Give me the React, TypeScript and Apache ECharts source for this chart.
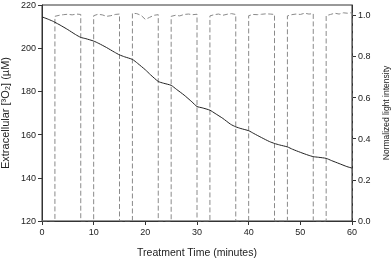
import React, { useEffect, useRef } from "react";
import * as echarts from "echarts";

// Extracellular oxygen (µM) vs time (minutes)
const o2Times = [0, 1, 2, 2.5, 3.5, 5, 6.5, 7.5, 8.5, 10, 11, 12.5, 14, 15, 16, 17.5, 18.5, 20, 21, 22.5, 23.5, 25, 26, 27.5, 29, 30, 31, 32.5, 33.5, 35, 36.5, 37.5, 38.5, 40, 41, 42.5, 44, 45, 46, 47.5, 48.5, 50, 51.5, 52.5, 53.5, 55, 56, 57.5, 59, 60];
const o2Values = [214.5, 213.6, 212.6, 212.0, 210.7, 208.6, 206.3, 205.0, 204.4, 203.3, 202.2, 200.3, 198.2, 196.9, 196.0, 194.8, 193.0, 190.0, 187.7, 184.6, 183.8, 182.8, 181.0, 178.3, 175.2, 173.0, 172.4, 171.3, 169.8, 167.5, 164.8, 163.6, 162.8, 161.8, 160.5, 158.6, 156.8, 155.9, 155.2, 154.3, 153.2, 151.8, 150.5, 149.8, 149.5, 149.0, 148.0, 146.6, 145.2, 144.5];

// Light pulses: on-interval starts / ends (minutes) and normalized intensity readings during each pulse
const lightOnStarts = [2.5, 10, 17.5, 25, 32.5, 40, 47.5, 55];
const lightOnEnds = [7.5, 15, 22.5, 30, 37.5, 45, 52.5, 60];
const lightLevels = [
  [0.995, 1.0, 1.003, 1.005, 1.002, 1.006, 1.004],
  [0.998, 1.005, 1.002, 0.995, 0.998, 1.004, 1.006],
  [1.01, 1.008, 1.0, 0.98, 0.99, 1.0, 1.003],
  [0.995, 1.0, 0.997, 1.004, 1.006, 1.003, 1.005],
  [0.997, 1.003, 1.006, 1.0, 1.005, 1.008, 1.004],
  [0.998, 1.004, 1.003, 1.005, 1.007, 1.006, 1.004],
  [0.997, 1.003, 1.006, 1.004, 1.01, 1.006, 1.008],
  [0.998, 1.004, 1.01, 1.006, 1.012, 1.01, 1.013],
];

const xTicks = { min: 0, max: 60, interval: 10 };
const yLeftTicks = { min: 120, max: 220, interval: 20 };
const yRightTicks = { min: 0, max: 1.05, interval: 0.2 };

const FONT = "'Liberation Sans', Arial, Helvetica, sans-serif";

export default function App() {
  const ref = useRef<HTMLDivElement>(null);
  useEffect(() => {
    if (!ref.current) return;
    const chart = echarts.init(ref.current, undefined, { renderer: "svg" });

    const o2Data = o2Times.map((t, i) => [t, o2Values[i]]);
    const lightData: number[][] = [[0, 0]];
    lightOnStarts.forEach((s, i) => {
      const e = lightOnEnds[i];
      const lv = lightLevels[i];
      lightData.push([s, 0]);
      lv.forEach((v, j) => {
        lightData.push([s + ((e - s) * j) / (lv.length - 1), v]);
      });
      lightData.push([e, 0]);
    });

    const axisCommon = {
      axisLine: { show: true, lineStyle: { color: "#333", width: 1 } },
      axisTick: { show: true, inside: false, length: 4, lineStyle: { color: "#333" } },
      splitLine: { show: false },
      axisLabel: { color: "#222", fontSize: 9, fontFamily: FONT, margin: 6 },
      nameTextStyle: { color: "#222", fontFamily: FONT },
    };

    chart.setOption({
      animation: false,
      grid: {
        left: 42, right: 40, top: 5, bottom: 38,
        containLabel: false, outerBoundsMode: "none",
        show: true, borderColor: "#333", borderWidth: 1,
      },
      xAxis: {
        type: "value",
        ...xTicks,
        ...axisCommon,
        axisLabel: { ...axisCommon.axisLabel, margin: 6 },
        name: "Treatment Time (minutes)",
        nameLocation: "middle",
        nameGap: 25,
        nameTextStyle: { ...axisCommon.nameTextStyle, fontSize: 10.5 },
      },
      yAxis: [
        {
          type: "value",
          position: "left",
          ...yLeftTicks,
          ...axisCommon,
          name: "Extracellular [³O₂] (µM)",
          nameLocation: "middle",
          nameRotate: 90,
          nameGap: 26,
          nameTextStyle: { ...axisCommon.nameTextStyle, fontSize: 11 },
        },
        {
          type: "value",
          position: "right",
          ...yRightTicks,
          ...axisCommon,
          axisLabel: {
            ...axisCommon.axisLabel,
            margin: 6,
            showMaxLabel: false,
            formatter: (v: number) => (v > 1.001 ? "" : v.toFixed(1)),
          },
          name: "Normalized light intensity",
          nameLocation: "middle",
          nameRotate: 90,
          nameGap: 24,
          nameTextStyle: { ...axisCommon.nameTextStyle, fontSize: 8.5 },
        },
      ],
      series: [
        {
          type: "line",
          yAxisIndex: 1,
          data: lightData,
          showSymbol: false,
          lineStyle: { color: "#8a8a8a", width: 1, type: [5, 2.5] },
          z: 1,
        },
        {
          type: "line",
          yAxisIndex: 0,
          data: o2Data,
          showSymbol: false,
          smooth: 0.2,
          lineStyle: { color: "#222", width: 1 },
          z: 2,
        },
      ],
    });
    return () => chart.dispose();
  }, []);
  return <div ref={ref} style={{ position: "fixed", left: 0, top: 0, width: 392, height: 259 }} />;
}
